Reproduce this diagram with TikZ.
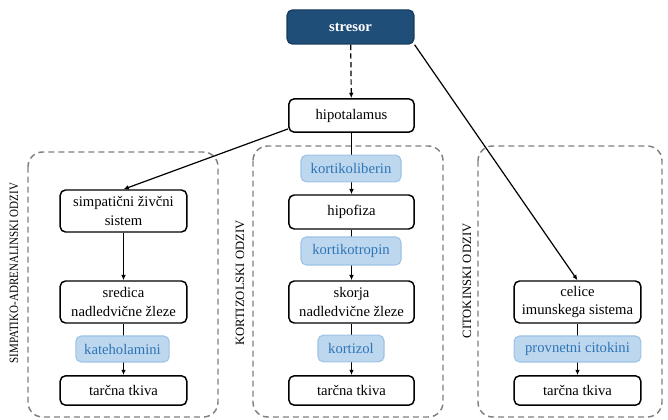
\documentclass[tikz,border=0pt]{standalone}
\usepackage{fontspec}
\setmainfont{Liberation Serif}
\usetikzlibrary{arrows.meta}

\definecolor{temnomodra}{HTML}{1F4E79}
\definecolor{svetlomodra}{HTML}{BDD7EE}
\definecolor{robmodra}{HTML}{9DC3E6}
\definecolor{tekstmodra}{HTML}{2E75B6}

\tikzset{
  okvir/.style={draw, line width=1.1pt, rounded corners=4pt, fill=white,
    align=center, font=\fontsize{11}{14}\selectfont, inner sep=2pt},
  hormon/.style={draw=robmodra, line width=0.8pt, rounded corners=4pt, fill=svetlomodra,
    text=tekstmodra, font=\fontsize{11}{14}\selectfont, inner sep=2pt},
  odziv/.style={draw=gray, dash pattern=on 4.5pt off 3pt, line width=1.1pt, rounded corners=11pt},
  oznaka/.style={rotate=90, font=\fontsize{9.5}{11}\selectfont},
}

\begin{document}
\begin{tikzpicture}[x=0.75pt, y=-0.75pt, >={Latex[length=4pt,width=3.5pt]}]

    \useasboundingbox (0,0) rectangle (668,420);

    % 1. Okvirji odzivov
    \draw[odziv] (28,152) rectangle (218,417);
    \draw[odziv] (253,146) rectangle (443,417);
    \draw[odziv] (478,146) rectangle (662,417);
    \node[oznaka] (oznakaA) at (14,273) {\scalebox{0.87}[1]{SIMPATIKO-ADRENALINSKI ODZIV}};
    \node[oznaka] (oznakaB) at (240,283) {KORTIZOLSKI ODZIV};
    \node[oznaka] (oznakaC) at (467,281) {CITOKINSKI ODZIV};

    % 2. Stresor in hipotalamus
    \node[okvir, fill=temnomodra, draw=temnomodra!80!black, text=white,
      font=\fontsize{11}{14}\selectfont\bfseries,
      minimum width=95pt, minimum height=25.5pt] (stresor) at (350.5,27) {stresor};
    \node[okvir, minimum width=94pt, minimum height=25pt] (hipotalamus) at (351.5,115.5) {hipotalamus};

    % 3. Levi stolpec
    \node[okvir, minimum width=95pt, minimum height=31.5pt] (simpaticni) at (123.5,211) {simpatični živčni\\sistem};
    \node[okvir, minimum width=95pt, minimum height=31.5pt] (sredica) at (123.5,302) {sredica\\nadledvične žleze};
    \node[okvir, minimum width=95pt, minimum height=22pt] (tarcnaA) at (123.5,390.5) {tarčna tkiva};

    % 4. Srednji stolpec
    \node[okvir, minimum width=94pt, minimum height=25.5pt] (hipofiza) at (351.5,212) {hipofiza};
    \node[okvir, minimum width=94pt, minimum height=31.5pt] (skorja) at (351.5,302) {skorja\\nadledvične žleze};
    \node[okvir, minimum width=94pt, minimum height=22pt] (tarcnaB) at (351.5,390.5) {tarčna tkiva};

    % 5. Desni stolpec
    \node[okvir, minimum width=95pt, minimum height=31.5pt] (celice) at (577.5,302) {celice\\imunskega sistema};
    \node[okvir, minimum width=95pt, minimum height=22pt] (tarcnaC) at (577.5,390.5) {tarčna tkiva};

    % 6. Puscice
    \draw[->, dash pattern=on 4pt off 2.5pt, line width=0.9pt] (stresor) -- (hipotalamus);
    \draw[->, line width=0.9pt] (stresor.south east) -- (celice.north);
    \draw[->, line width=0.9pt] ([yshift=3pt]hipotalamus.south west) -- (simpaticni.north);
    \draw[->, line width=0.9pt] (simpaticni) -- (sredica);
    \draw[->, line width=0.9pt] (sredica) -- (tarcnaA);
    \draw[->, line width=0.9pt] (hipotalamus) -- (hipofiza);
    \draw[->, line width=0.9pt] (hipofiza) -- (skorja);
    \draw[->, line width=0.9pt] (skorja) -- (tarcnaB);
    \draw[->, line width=0.9pt] (celice) -- (tarcnaC);

    % 7. Hormoni (cez puscice)
    \node[hormon, minimum width=70pt, minimum height=19.5pt] (kateholamini) at (122.5,349) {kateholamini};
    \node[hormon, minimum width=75pt, minimum height=20pt] (kortikoliberin) at (351,168.5) {kortikoliberin};
    \node[hormon, minimum width=75pt, minimum height=21pt] (kortikotropin) at (351,251) {kortikotropin};
    \node[hormon, minimum width=49.5pt, minimum height=20pt] (kortizol) at (351,348.5) {kortizol};
    \node[hormon, minimum width=95pt, minimum height=19.5pt] (citokini) at (577.5,349) {provnetni citokini};

\end{tikzpicture}
\end{document}
